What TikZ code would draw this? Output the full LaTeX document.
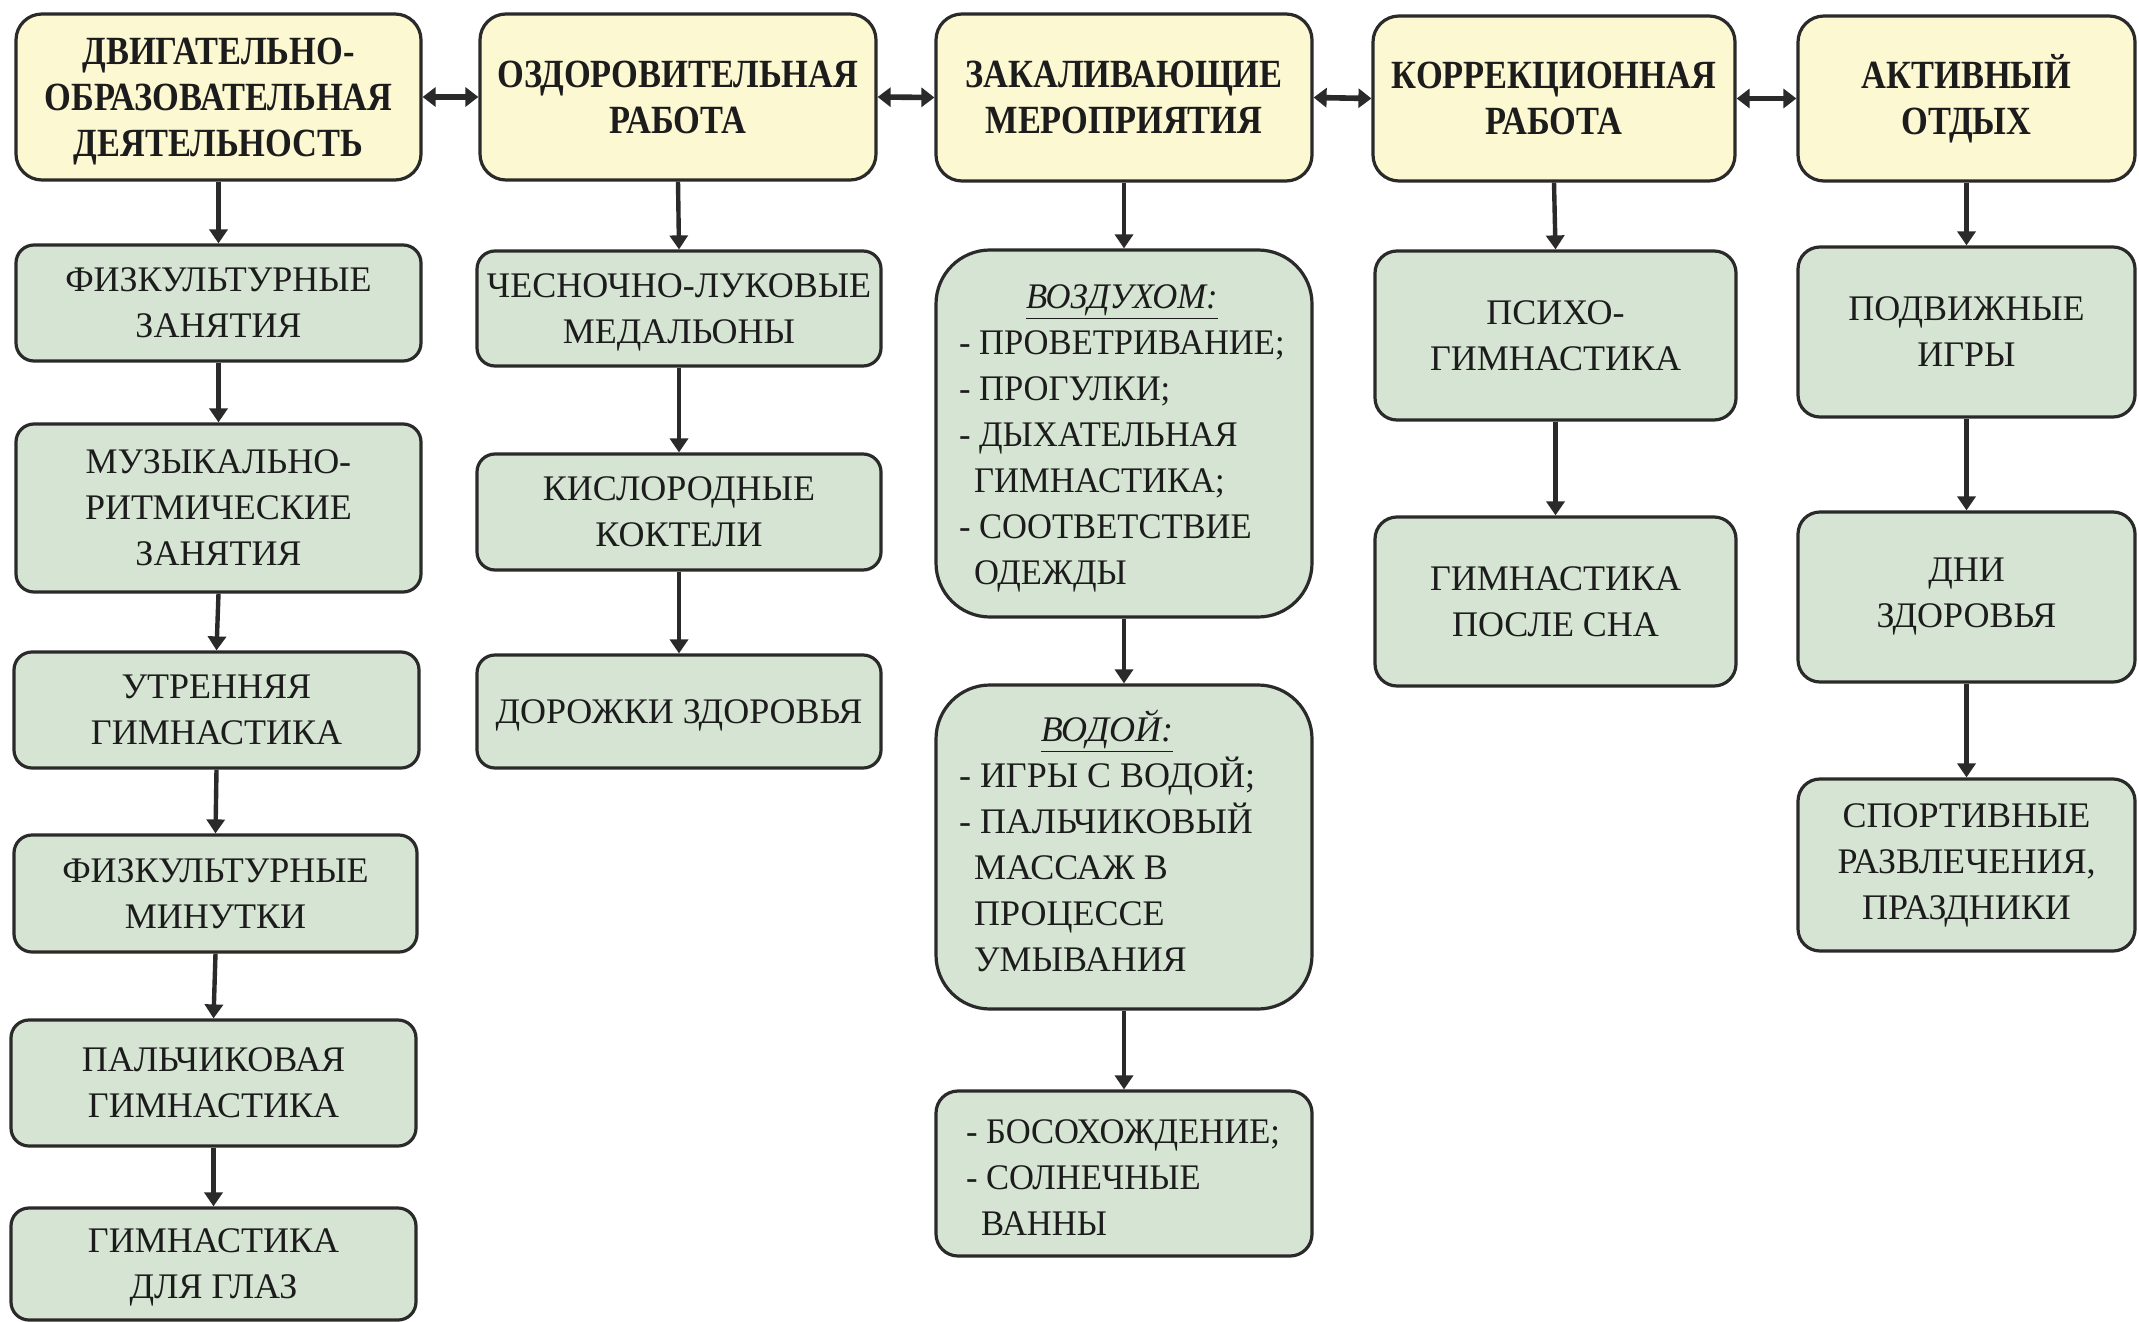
\documentclass[tikz,border=0pt]{standalone}
\usepackage{fontspec}
\setmainfont{Liberation Serif}
\newfontfamily\headfont{Liberation Serif}[FakeStretch=0.86]
\newfontfamily\bodyfont{Liberation Serif}
\newfontfamily\listfont{Liberation Serif}[FakeStretch=0.96]
\usetikzlibrary{arrows.meta}
\definecolor{ylw}{HTML}{FCF8D2}
\definecolor{grn}{HTML}{D6E5D3}
\definecolor{ink}{HTML}{2A2A2A}
\definecolor{txt}{HTML}{1C1C1C}
\newcommand{\cind}{\hspace*{0.42em}}
\begin{document}
\begin{tikzpicture}[x=0.5pt,y=-0.5pt,
  topbox/.style={draw=ink, line width=1.6pt, fill=ylw, rounded corners=13pt, align=center,
    font=\headfont\bfseries\fontsize{20}{23}\selectfont, inner sep=0pt, text=txt},
  gbox/.style={draw=ink, line width=1.6pt, fill=grn, rounded corners=9pt, align=center,
    font=\bodyfont\fontsize{18}{23}\selectfont, inner sep=0pt, text=txt},
  lbox/.style={gbox, font=\listfont\fontsize{18}{23}\selectfont},
  varrow/.style={draw=ink, line width=2.2pt, -{Triangle[width=9pt,length=7pt]}},
  harrow/.style={draw=ink, line width=2.8pt, {Triangle[width=9.5pt,length=6.5pt]}-{Triangle[width=9.5pt,length=6.5pt]}}]
\useasboundingbox (0,0) rectangle (2139,1321);
\fill[white] (0,0) rectangle (2139,1321);
% top row
\node[topbox, text depth=0pt, minimum width=202.5pt, minimum height=83pt] (T1) at (218.5,97) {ДВИГАТЕЛЬНО-\\ОБРАЗОВАТЕЛЬНАЯ\\ДЕЯТЕЛЬНОСТЬ};
\node[topbox, minimum width=198pt, minimum height=83pt] (T2) at (678,97) {ОЗДОРОВИТЕЛЬНАЯ\\РАБОТА};
\node[topbox, minimum width=188pt, minimum height=83.5pt] (T3) at (1124,97.5) {ЗАКАЛИВАЮЩИЕ\\МЕРОПРИЯТИЯ};
\node[topbox, minimum width=181pt, minimum height=82.5pt] (T4) at (1554,98.5) {КОРРЕКЦИОННАЯ\\РАБОТА};
\node[topbox, minimum width=168.5pt, minimum height=82.5pt] (T5) at (1966.5,98.5) {АКТИВНЫЙ\\ОТДЫХ};
% column 1
\node[gbox, minimum width=202.5pt, minimum height=58pt] (A1) at (218.5,303) {ФИЗКУЛЬТУРНЫЕ\\ЗАНЯТИЯ};
\node[gbox, minimum width=202.5pt, minimum height=84pt] (A2) at (218.5,508) {МУЗЫКАЛЬНО-\\РИТМИЧЕСКИЕ\\ЗАНЯТИЯ};
\node[gbox, minimum width=202.5pt, minimum height=58pt] (A3) at (216.5,710) {УТРЕННЯЯ\\ГИМНАСТИКА};
\node[gbox, minimum width=201.5pt, minimum height=58.5pt] (A4) at (215.5,893.5) {ФИЗКУЛЬТУРНЫЕ\\МИНУТКИ};
\node[gbox, minimum width=202.5pt, minimum height=63pt] (A5) at (213.5,1083) {ПАЛЬЧИКОВАЯ\\ГИМНАСТИКА};
\node[gbox, text depth=0pt, minimum width=202.5pt, minimum height=56pt] (A6) at (213.5,1264) {ГИМНАСТИКА\\ДЛЯ ГЛАЗ};
% column 2
\node[gbox, text depth=0pt, minimum width=202pt, minimum height=57.5pt] (B1) at (679,308.5) {ЧЕСНОЧНО-ЛУКОВЫЕ\\МЕДАЛЬОНЫ};
\node[gbox, minimum width=202pt, minimum height=58pt] (B2) at (679,512) {КИСЛОРОДНЫЕ\\КОКТЕЛИ};
\node[gbox, text depth=0pt, minimum width=202pt, minimum height=56.5pt] (B3) at (679,711.5) {ДОРОЖКИ ЗДОРОВЬЯ};
% column 3
\node[lbox, rounded corners=27pt, minimum width=188pt, minimum height=183.5pt] (C1) at (1124,433.5)
  {\raisebox{-2pt}[\height][\depth]{\makebox[165pt][l]{\begin{tabular}{@{}l@{}}\multicolumn{1}{@{}c@{}}{\underline{\textit{ВОЗДУХОМ:}}}\\- ПРОВЕТРИВАНИЕ;\\- ПРОГУЛКИ;\\- ДЫХАТЕЛЬНАЯ\\\cind ГИМНАСТИКА;\\- СООТВЕТСТВИЕ\\\cind ОДЕЖДЫ\end{tabular}}}};
\node[gbox, rounded corners=27pt, minimum width=188pt, minimum height=162pt] (C2) at (1124,847)
  {\makebox[165pt][l]{\begin{tabular}{@{}l@{}}\multicolumn{1}{@{}c@{}}{\underline{\textit{ВОДОЙ:}}}\\- ИГРЫ С ВОДОЙ;\\- ПАЛЬЧИКОВЫЙ\\\cind МАССАЖ В\\\cind ПРОЦЕССЕ\\\cind УМЫВАНИЯ\end{tabular}}};
\node[lbox, rounded corners=11pt, minimum width=188pt, minimum height=82.5pt] (C3) at (1124,1173.5)
  {\raisebox{-3.5pt}[\height][\depth]{\makebox[158pt][l]{\begin{tabular}{@{}l@{}}- БОСОХОЖДЕНИЕ;\\- СОЛНЕЧНЫЕ\\\cind ВАННЫ\end{tabular}}}};
% column 4
\node[gbox, rounded corners=11pt, minimum width=180.5pt, minimum height=84.5pt] (D1) at (1555.5,335.5) {ПСИХО-\\ГИМНАСТИКА};
\node[gbox, rounded corners=11pt, minimum width=180.5pt, minimum height=84.5pt] (D2) at (1555.5,601.5) {ГИМНАСТИКА\\ПОСЛЕ СНА};
% column 5
\node[gbox, rounded corners=11pt, minimum width=168.5pt, minimum height=85pt] (E1) at (1966.5,332) {ПОДВИЖНЫЕ\\ИГРЫ};
\node[gbox, rounded corners=11pt, minimum width=168.5pt, minimum height=85pt] (E2) at (1966.5,597) {ДНИ\\ЗДОРОВЬЯ};
\node[gbox, rounded corners=11pt, minimum width=168.5pt, minimum height=86pt] (E3) at (1966.5,865) {СПОРТИВНЫЕ\\РАЗВЛЕЧЕНИЯ,\\ПРАЗДНИКИ};
% horizontal arrows
\draw[harrow] (T1.east) -- (T2.west);
\draw[harrow] (T2.east) -- (T3.west);
\draw[harrow] (T3.east) -- (T4.west);
\draw[harrow] (T4.east) -- (T5.west);
% vertical arrows
\draw[varrow] (T1.south) -- (A1.north);
\draw[varrow] (A1.south) -- (A2.north);
\draw[varrow] (A2.south) -- (A3.north);
\draw[varrow] (A3.south) -- (A4.north);
\draw[varrow] (A4.south) -- (A5.north);
\draw[varrow] (A5.south) -- (A6.north);
\draw[varrow] (T2.south) -- (B1.north);
\draw[varrow] (B1.south) -- (B2.north);
\draw[varrow] (B2.south) -- (B3.north);
\draw[varrow] (T3.south) -- (C1.north);
\draw[varrow] (C1.south) -- (C2.north);
\draw[varrow] (C2.south) -- (C3.north);
\draw[varrow] (T4.south) -- (D1.north);
\draw[varrow] (D1.south) -- (D2.north);
\draw[varrow] (T5.south) -- (E1.north);
\draw[varrow] (E1.south) -- (E2.north);
\draw[varrow] (E2.south) -- (E3.north);
\end{tikzpicture}
\end{document}
